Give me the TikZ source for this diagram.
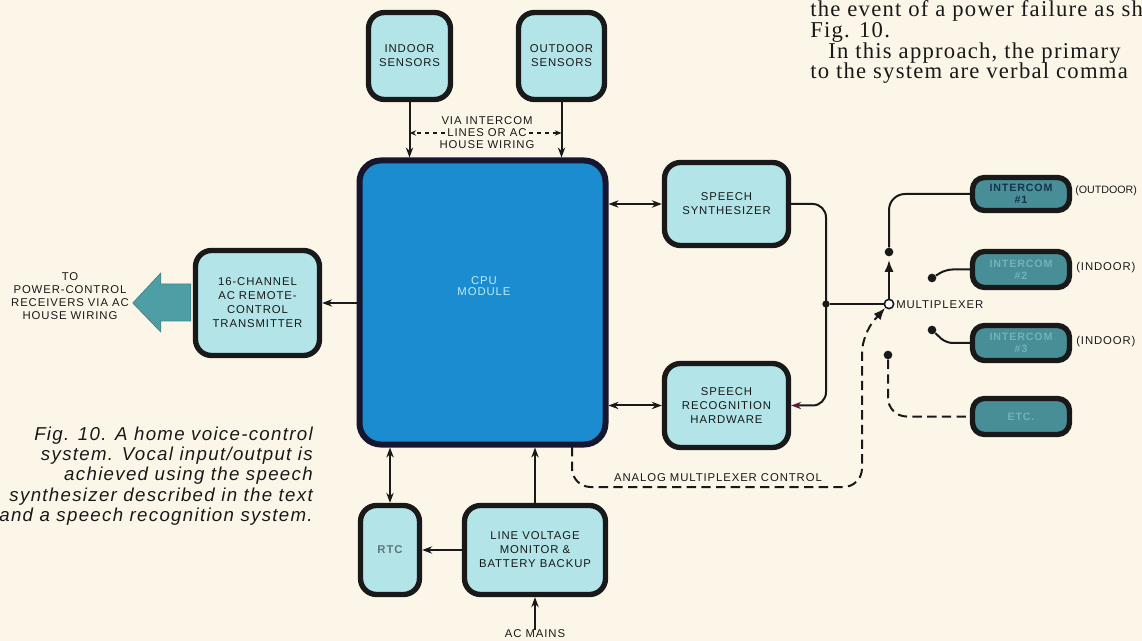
\documentclass[tikz,border=0pt]{standalone}
\usepackage{fontspec}
\setmainfont{Liberation Serif}
\setsansfont{Liberation Sans}
\newfontfamily\lblfont[LetterSpace=8]{Liberation Sans}
\newfontfamily\tightfont{Liberation Sans}
\newfontfamily\capfont[LetterSpace=7]{Liberation Sans}
\newfontfamily\bodyfont[LetterSpace=5.5]{Liberation Serif}
\usetikzlibrary{arrows.meta,calc}
\definecolor{bgc}{RGB}{251,246,232}
\definecolor{boxc}{RGB}{178,228,232}
\definecolor{cpuc}{RGB}{28,140,208}
\definecolor{cputxt}{RGB}{190,235,245}
\definecolor{icc}{RGB}{72,142,150}
\definecolor{ictxt}{RGB}{25,50,80}
\definecolor{ictxtb}{RGB}{115,178,186}
\definecolor{arrc}{RGB}{78,158,166}
\definecolor{ink}{RGB}{25,25,25}
\definecolor{tipc}{RGB}{90,30,60}
\definecolor{rtctxt}{RGB}{95,120,125}
\newcommand\mybox[7]{\node[#6, minimum width={(#4-#2-5)*0.75pt}, minimum height={(#5-#3-5)*0.75pt}] (#1) at ({(#2+#4)/2},{(#3+#5)/2}) {#7};}
\tikzset{
  lbox/.style={draw=ink, line width=4pt, fill=boxc, rounded corners=12pt, inner sep=0pt, align=center, text=ink,
    font=\lblfont\fontsize{8.5}{10.5}\selectfont},
  cpubox/.style={draw=ink!90!blue, line width=4.5pt, fill=cpuc, rounded corners=16pt, inner sep=0pt},
  icbox/.style={draw=ink, line width=4pt, fill=icc, rounded corners=9pt, inner sep=0pt, align=center, text=ictxt,
    font=\lblfont\bfseries\fontsize{8}{9}\selectfont},
  lbl/.style={inner sep=0pt, text=ink, font=\lblfont\fontsize{8.5}{9.75}\selectfont},
  conn/.style={draw=ink, line width=1.5pt},
  dot/.style={circle, fill=ink, inner sep=0pt, minimum size=6.5pt},
}
\begin{document}
\begin{tikzpicture}[x=0.75pt,y=-0.75pt, >={Stealth[length=7.5pt,width=5.5pt]}]
\useasboundingbox (0,0) rectangle (1142,641);
\fill[bgc] (0,0) rectangle (1142,641);

% body text (top right)
\begin{scope}[every node/.style={anchor=base west, inner sep=0pt, text=ink, font=\bodyfont\fontsize{17}{17}\selectfont}]
\node (t1) at (810,17) {the event of a power failure as sh};
\node (t2) at (810,38) {Fig. 10.};
\node (t3) at (828,58.5) {In this approach, the primary};
\node (t4) at (810,79) {to the system are verbal comma};
\end{scope}

% boxes
\mybox{ind}{366}{10}{453}{102}{lbox}{INDOOR\\SENSORS}
\mybox{outd}{516}{10}{607}{102}{lbox}{OUTDOOR\\SENSORS}
\mybox{cpu}{357}{158}{608}{447}{cpubox}{}
\node[align=center, inner sep=0pt, text=cputxt, font=\lblfont\fontsize{8.5}{8.5}\selectfont] (cpul) at (484,286) {CPU\\MODULE};
\mybox{syn}{662}{160}{791}{248}{lbox}{SPEECH\\SYNTHESIZER}
\mybox{rec}{662}{361}{791}{450}{lbox}{SPEECH\\RECOGNITION\\HARDWARE}
\mybox{xmt}{193}{248}{322}{358}{lbox}{16-CHANNEL\\AC REMOTE-\\CONTROL\\TRANSMITTER}
\mybox{rtc}{358}{503}{422}{597}{lbox, text=rtctxt, font=\lblfont\bfseries\fontsize{8.5}{10.5}\selectfont}{RTC}
\mybox{lvm}{462}{503}{608}{597}{lbox}{LINE VOLTAGE\\MONITOR \&\\BATTERY BACKUP}
\mybox{ic1}{970}{175}{1072}{213}{icbox}{INTERCOM\\\#1}
\mybox{ic2}{970}{249}{1072}{290}{icbox, text=ictxtb}{INTERCOM\\\#2}
\mybox{ic3}{970}{323}{1072}{363}{icbox, text=ictxtb}{INTERCOM\\\#3}
\mybox{etc}{970}{396}{1072}{437}{icbox, text=ictxtb}{ETC.}

% sensors to CPU
\draw[conn,->] (ind.south) -- (ind.south |- cpu.north);
\draw[conn,->] (outd.south) -- (outd.south |- cpu.north);
\node[lbl] (via1) at (487,121) {VIA INTERCOM};
\node[lbl] (via2) at (487,133) {LINES OR AC};
\node[lbl] (via3) at (487,145) {HOUSE WIRING};
\draw[ink, line width=1pt, dashed, -{Stealth[length=5pt,width=4pt]}] ([xshift=-2pt]via2.west) -- (via2.west -| ind.south);
\draw[ink, line width=1pt, dashed, -{Stealth[length=5pt,width=4pt]}] ([xshift=2pt]via2.east) -- (via2.east -| outd.south);

% CPU <-> speech
\draw[conn,<->] (syn.west -| cpu.east) -- (syn.west);
\draw[conn,<->] (rec.west -| cpu.east) -- (rec.west);
\node[dot, minimum size=5.5pt] (jn) at (826,304) {};
\draw[conn, rounded corners=10pt, -{Stealth[length=7.5pt,width=5.5pt,color=tipc]}] (syn.east) -- (syn.east -| jn) -- (rec.east -| jn) -- (rec.east);

% multiplexer
\node[circle, draw=ink, fill=white, line width=1.2pt, minimum size=7pt, inner sep=0pt] (mux) at (889,304) {};
\node[lbl, anchor=west] (muxl) at (896,305) {MULTIPLEXER};
\draw[conn] (jn) -- (mux);
\node[dot] (d1) at (889,252) {};
\draw[conn,-{Latex[length=9pt,width=7pt]}] (mux.north) -- ($(d1)+(0,8)$);
\draw[conn, rounded corners=12pt] (d1) -- (d1 |- ic1.west) -- (ic1.west);
\node[dot] (d2) at (932,278) {};
\draw[conn, rounded corners=5pt] (d2) -- ($(ic2.west)+(-24,0)$) -- (ic2.west);
\node[dot] (d3) at (932,330) {};
\draw[conn, rounded corners=5pt] (d3) -- ($(ic3.west)+(-24,0)$) -- (ic3.west);
\node[dot] (d4) at (888,355) {};
\draw[conn, dash pattern=on 7pt off 4pt, rounded corners=14pt] (d4) -- (d4 |- etc.west) -- (etc.west);

% analog multiplexer control
\coordinate (c0) at (572,447);
\coordinate (cb) at (862,487);
\coordinate (cu) at (862,334);
\draw[conn, dash pattern=on 7pt off 4pt, rounded corners=14pt, -{Latex[length=9pt,width=7pt]}] (c0) -- (c0 |- cb) -- (cb) -- (cu) -- (mux.-135);
\node[lbl] (amc) at (718,478) {ANALOG MULTIPLEXER CONTROL};

% side labels
\node[lbl, anchor=west, font=\tightfont\fontsize{8}{9}\selectfont] (l1) at (1075,191) {(OUTDOOR)};
\node[lbl, anchor=west] (l2) at (1076,268) {(INDOOR)};
\node[lbl, anchor=west] (l3) at (1076,342) {(INDOOR)};

% transmitter
\draw[conn,->] (xmt.east -| cpu.west) -- (xmt.east);
\fill[arrc, draw=arrc!85!black, line width=0.6pt] ($(xmt.west)+(-2,-19)$) -- ($(xmt.west)+(-32,-19)$) -- ($(xmt.west)+(-32,-30)$) -- ($(xmt.west)+(-60,0)$) -- ($(xmt.west)+(-32,29)$) -- ($(xmt.west)+(-32,18)$) -- ($(xmt.west)+(-2,18)$) -- cycle;
\node[lbl, align=center] (tol) at (70,296) {TO\\POWER-CONTROL\\RECEIVERS VIA AC\\HOUSE WIRING};

% bottom
\draw[conn,<->] (rtc.north) -- (rtc.north |- cpu.south);
\draw[conn,->] (lvm.north) -- (lvm.north |- cpu.south);
\draw[conn,->] (lvm.west) -- (rtc.east);
\node[lbl] (acm) at (535,634) {AC MAINS};
\draw[conn,->] (acm.north) -- (lvm.south);

% caption
\node[anchor=east, align=right, inner sep=0pt, text=ink, font=\capfont\itshape\fontsize{14}{15.2}\selectfont] (cap) at (313,476)
 {Fig. 10. A home voice-control\\system. Vocal input/output is\\achieved using the speech\\synthesizer described in the text\\and a speech recognition system.};
\end{tikzpicture}
\end{document}
